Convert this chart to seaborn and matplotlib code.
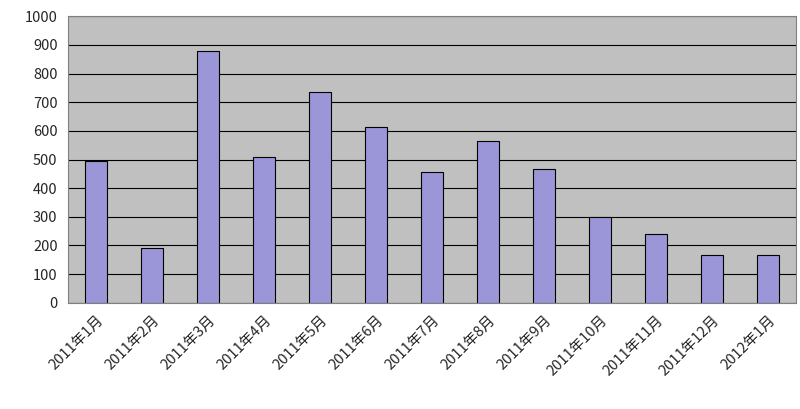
import matplotlib
matplotlib.use("Agg")
import matplotlib.pyplot as plt
import seaborn as sns
import pandas as pd

months = ["2011年1月", "2011年2月", "2011年3月", "2011年4月", "2011年5月", "2011年6月",
          "2011年7月", "2011年8月", "2011年9月", "2011年10月", "2011年11月", "2011年12月", "2012年1月"]
values = [495, 190, 880, 510, 737, 612, 455, 565, 467, 300, 240, 165, 165]

sns.set_style("white")
plt.rcParams['font.family'] = ['Noto Sans CJK SC', 'DejaVu Sans']

df = pd.DataFrame({"month": months, "value": values})

fig = plt.figure(figsize=(8, 4.09), dpi=100)
ax = fig.add_axes([0.085, 0.26, 0.91, 0.70])
ax.set_facecolor("#c0c0c0")
ax.set_axisbelow(True)
ax.grid(axis="y", color="black", linewidth=0.8)
sns.barplot(data=df, x="month", y="value", color="#9a96d8", edgecolor="black",
            linewidth=0.8, width=0.4, saturation=1, ax=ax)
ax.set_ylim(0, 1000)
ax.set_yticks(range(0, 1001, 100))
ax.set_xlim(-0.5, len(months) - 0.5)
ax.set_xlabel("")
ax.set_ylabel("")
ax.tick_params(axis="both", labelsize=10.5, length=4, direction="out")
plt.setp(ax.get_xticklabels(), rotation=45, ha="right", rotation_mode="anchor")
for s in ax.spines.values():
    s.set_color("#808080")
fig.savefig("out.png")
